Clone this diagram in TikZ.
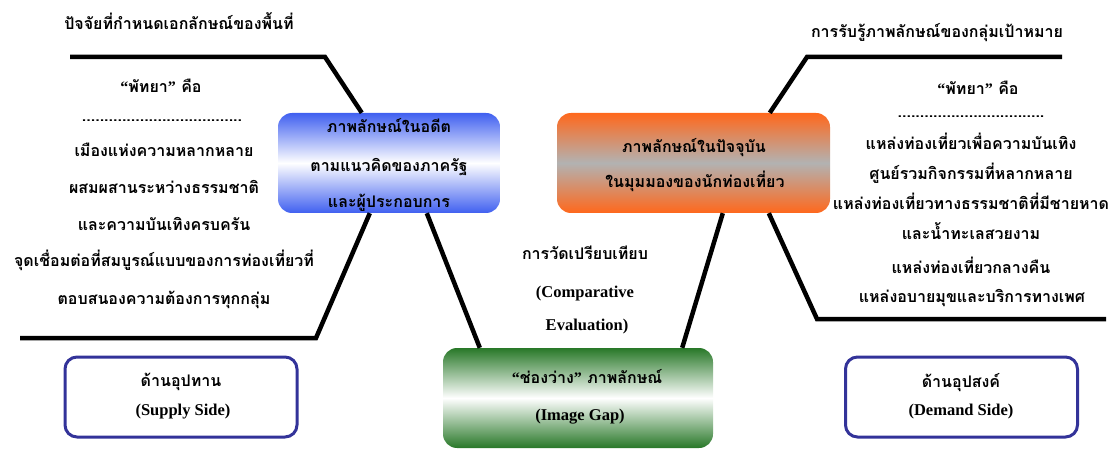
\documentclass[tikz,border=0pt]{standalone}
\usepackage{fontspec}
\setmainfont{Liberation Serif}
\newfontfamily\thai[Script=Thai]{Loma}
\newcommand{\myopenq}{{\rmfamily “}}
\newcommand{\mycloseq}{{\rmfamily ”}}
\definecolor{bluebox}{RGB}{64,96,240}
\definecolor{orangebox}{RGB}{255,104,28}
\definecolor{greybox}{RGB}{178,178,178}
\definecolor{greenbox}{RGB}{40,120,40}
\definecolor{navyedge}{RGB}{51,51,153}
\tikzset{
  th/.style={anchor=base,inner sep=0pt,font=\thai\bfseries\fontsize{16}{19}\selectfont},
  la/.style={anchor=base,inner sep=0pt,font=\bfseries\fontsize{16.5}{20}\selectfont},
  conn/.style={line width=4.5pt,line join=miter},
  box/.style={rounded corners=14pt,inner sep=0pt},
  sidebox/.style={draw=navyedge,line width=3pt,rounded corners=12pt,minimum width=232pt,minimum height=80pt,inner sep=0pt},
}
\begin{document}
\begin{tikzpicture}[x=1pt,y=-1pt]
\useasboundingbox (0,0) rectangle (1114,449);
% boxes
\node[box,top color=bluebox,bottom color=bluebox,middle color=white,minimum width=222pt,minimum height=100pt] (blue) at (389,163) {};
\node[box,top color=orangebox,bottom color=orangebox,middle color=greybox,minimum width=273pt,minimum height=100pt] (orange) at (693.5,163) {};
\node[box,top color=greenbox,bottom color=greenbox,middle color=white,minimum width=270pt,minimum height=100pt] (green) at (578,398) {};
\node[sidebox] (supply) at (181,397) {};
\node[sidebox] (demand) at (961.5,397) {};
% free ends
\coordinate (tla) at (70,57);
\coordinate (tlb) at (325,57);
\coordinate (bla) at (20,338);
\coordinate (blb) at (316,338);
\coordinate (tra) at (1062,57);
\coordinate (trb) at (807,57);
\coordinate (bra) at (1106,319);
\coordinate (brb) at (817,319);
% connectors
\draw[conn] (tla) -- (tlb) -- ([xshift=84pt]blue.north west);
\draw[conn] ([xshift=92pt]blue.south west) -- (blb) -- (bla);
\draw[conn] ([xshift=149pt]blue.south west) -- ([xshift=37pt]green.north west);
\draw[conn] ([xshift=-31pt]green.north east) -- ([xshift=166pt]orange.south west);
\draw[conn] ([xshift=213pt]orange.north west) -- (trb) -- (tra);
\draw[conn] ([xshift=212pt]orange.south west) -- (brb) -- (bra);
% left texts
\node[th] (ltitle) at (179,30) {ปัจจัยที่กำหนดเอกลักษณ์ของพื้นที่};
\node[th] (lhead) at (161,93) {\myopenq พัทยา\mycloseq\ คือ};
\node[th] (ldots) at (162,122) {....................................};
\node[th] (l1) at (164,157) {เมืองแห่งความหลากหลาย};
\node[th] (l2) at (164,194) {ผสมผสานระหว่างธรรมชาติ};
\node[th] (l3) at (164,231) {และความบันเทิงครบครัน};
\node[th] (l4) at (164,266) {จุดเชื่อมต่อที่สมบูรณ์แบบของการท่องเที่ยวที่};
\node[th] (l5) at (164,305) {ตอบสนองความต้องการทุกกลุ่ม};
% blue box text
\node[th] (b1) at (389,133) {ภาพลักษณ์ในอดีต};
\node[th] (b2) at (389,172) {ตามแนวคิดของภาครัฐ};
\node[th] (b3) at (389,208) {และผู้ประกอบการ};
% orange box text
\node[th] (o1) at (694,153) {ภาพลักษณ์ในปัจจุบัน};
\node[th] (o2) at (695,188) {ในมุมมองของนักท่องเที่ยว};
% right texts
\node[th] (rtitle) at (937,38) {การรับรู้ภาพลักษณ์ของกลุ่มเป้าหมาย};
\node[th] (rhead) at (978,95) {\myopenq พัทยา\mycloseq\ คือ};
\node[th] (rdots) at (971,118) {.................................};
\node[th] (r1) at (971,150) {แหล่งท่องเที่ยวเพื่อความบันเทิง};
\node[th] (r2) at (971,180) {ศูนย์รวมกิจกรรมที่หลากหลาย};
\node[th] (r3) at (971,210) {แหล่งท่องเที่ยวทางธรรมชาติที่มีชายหาด};
\node[th] (r4) at (971,240) {และน้ำทะเลสวยงาม};
\node[th] (r5) at (971,273) {แหล่งท่องเที่ยวกลางคืน};
\node[th] (r6) at (972,302) {แหล่งอบายมุขและบริการทางเพศ};
% middle texts
\node[th] (m1) at (585,259) {การวัดเปรียบเทียบ};
\node[la] (m2) at (585,297) {(Comparative};
\node[la] (m3) at (587,330) {Evaluation)};
% green box text
\node[th] (g1) at (587,383) {\myopenq ช่องว่าง\mycloseq\ ภาพลักษณ์};
\node[la] (g2) at (580,420) {(Image Gap)};
% side boxes text
\node[th] (s1) at (181,386) {ด้านอุปทาน};
\node[la] (s2) at (183,415) {(Supply Side)};
\node[th] (d1) at (961,387) {ด้านอุปสงค์};
\node[la] (d2) at (961,415) {(Demand Side)};
\end{tikzpicture}
\end{document}
